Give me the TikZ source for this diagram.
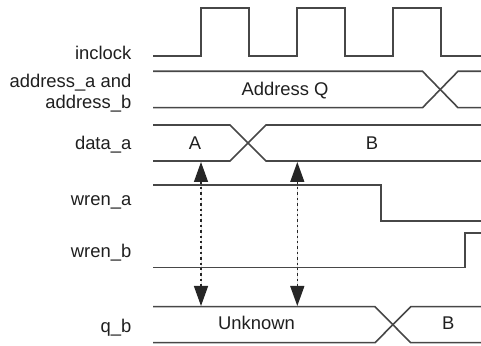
\documentclass[tikz,border=0pt]{standalone}
\usepackage{fontspec}
\setmainfont{Liberation Sans}
\usetikzlibrary{arrows.meta}
\begin{document}
\begin{tikzpicture}[x=0.5pt,y=-0.5pt,
  sig/.style={line width=0.8pt, draw=black!72, line join=miter},
  lbl/.style={anchor=base east, font=\fontsize{9.2}{10.5}\selectfont, inner sep=0pt, text=black!88},
  val/.style={anchor=base, font=\fontsize{9.2}{10.5}\selectfont, inner sep=0pt, text=black!88},
  marker/.style={{Triangle[length=10pt,width=7pt]}-{Triangle[length=10pt,width=7pt]}, dash pattern=on 1.2pt off 1.5pt, line width=0.7pt, draw=black!85, fill=black!85}]
\useasboundingbox (0,0) rectangle (481,346);
% labels
\node[lbl] (linclock) at (131.7,60) {inclock};
\node[lbl] (laddr1) at (131.7,87.5) {address\_a and};
\node[lbl] (laddr2) at (131.7,108.5) {address\_b};
\node[lbl] (ldata) at (131.7,149.5) {data\_a};
\node[lbl] (lwrena) at (131.7,206) {wren\_a};
\node[lbl] (lwrenb) at (131.7,257.3) {wren\_b};
\node[lbl] (lqb) at (131.7,332.5) {q\_b};
% clock
\draw[sig] (153,56) -- (201,56) -- (201,8) -- (249,8) -- (249,56) -- (297,56) -- (297,8)
  -- (345,8) -- (345,56) -- (393,56) -- (393,8) -- (441,8) -- (441,56) -- (481,56);
% address bus
\draw[sig] (153,71.3) -- (422.5,71.3) -- (458,107.7) -- (481,107.7);
\draw[sig] (153,107.7) -- (422.5,107.7) -- (458,71.3) -- (481,71.3);
\node[val] (addrq) at (285,95.5) {Address Q};
% data_a
\draw[sig] (153,125) -- (230,125) -- (266,161) -- (481,161);
\draw[sig] (153,161) -- (230,161) -- (266,125) -- (481,125);
\node[val] (da) at (195,149.7) {A};
\node[val] (db) at (372,149.7) {B};
% wren_a
\draw[sig] (153,185) -- (380.7,185) -- (380.7,221) -- (481,221);
% wren_b
\draw[sig] (153,267.7) -- (465,267.7) -- (465,233.3) -- (481,233.3);
% q_b
\draw[sig] (153,306.7) -- (375,306.7) -- (410.7,342.7) -- (481,342.7);
\draw[sig] (153,342.7) -- (375,342.7) -- (410.7,306.7) -- (481,306.7);
\node[val] (qu) at (256.5,329.3) {Unknown};
\node[val] (qb) at (448.3,329.3) {B};
% markers
\coordinate (m1t) at (201,162);
\coordinate (m1b) at (201,306);
\coordinate (m2t) at (297.3,162);
\coordinate (m2b) at (297.3,306);
\draw[marker] (m1t) -- (m1b);
\draw[marker] (m2t) -- (m2b);
\end{tikzpicture}
\end{document}
